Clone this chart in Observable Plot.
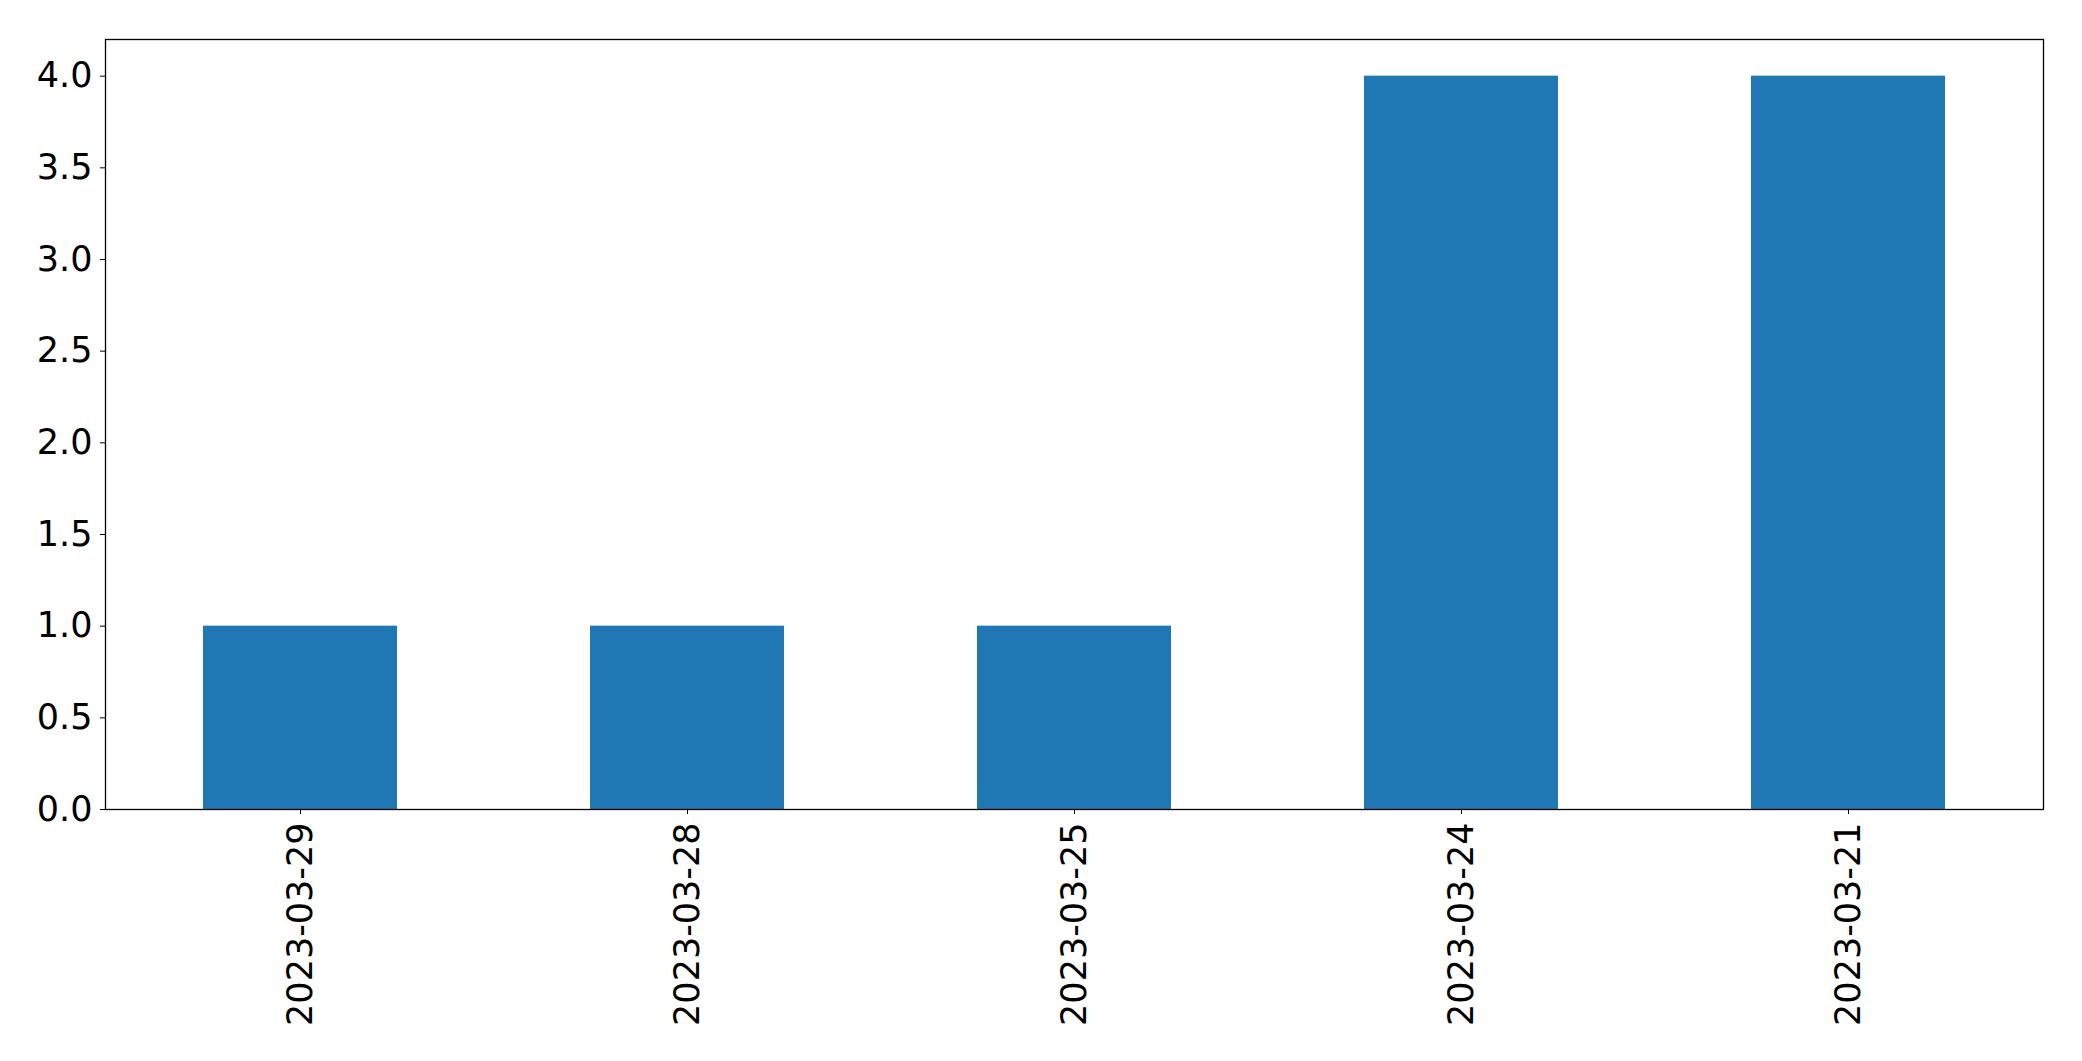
<!DOCTYPE html>
<html>
<head>
<meta charset="utf-8">
<script src="https://cdn.jsdelivr.net/npm/d3@7"></script>
<script src="https://cdn.jsdelivr.net/npm/@observablehq/plot@0.6"></script>
<style>
  html, body { margin: 0; padding: 0; background: #fff; }
  #chart svg { display: block; }
</style>
</head>
<body>
<div id="chart"></div>
<script>
const dates = ["2023-03-29", "2023-03-28", "2023-03-25", "2023-03-24", "2023-03-21"];
const counts = [1, 1, 1, 4, 4];
const yTicks = [0, 0.5, 1, 1.5, 2, 2.5, 3, 3.5, 4];

const data = dates.map((d, i) => ({date: d, count: counts[i]}));

const chart = Plot.plot({
  width: 2082,
  height: 1061,
  marginLeft: 105,
  marginRight: 39,
  marginTop: 39,
  marginBottom: 252,
  style: {fontFamily: "DejaVu Sans", fontSize: "35px", color: "#000", background: "#fff"},
  x: {type: "band", domain: dates, paddingInner: 0.5, paddingOuter: 0.25, label: null},
  y: {domain: [0, 4.2], label: null},
  marks: [
    Plot.barY(data, {x: "date", y: "count", fill: "#1f77b4"}),
    Plot.axisY({ticks: yTicks, tickFormat: d3.format(".1f"), tickSize: 5, tickPadding: 8, label: null, stroke: "#000", fontSize: 35}),
    Plot.axisX({tickRotate: -90, tickSize: 5, tickPadding: 8, label: null, stroke: "#000", fontSize: 35}),
    Plot.frame({stroke: "#000", strokeWidth: 1.3})
  ]
});
document.getElementById("chart").appendChild(chart);
</script>
</body>
</html>
